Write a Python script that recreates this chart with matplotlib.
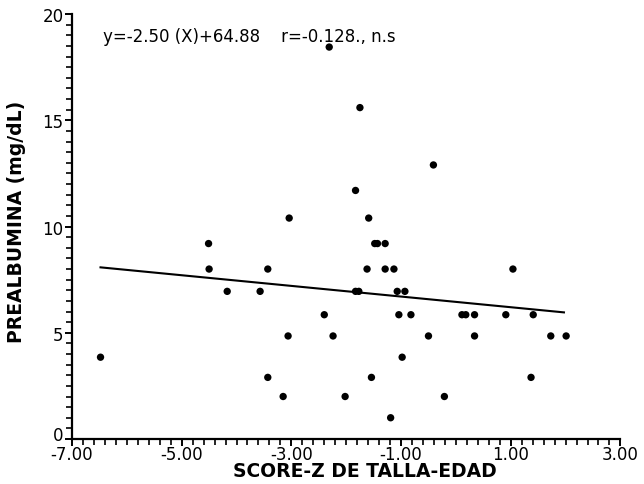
import matplotlib

matplotlib.use("Agg")

import matplotlib.pyplot as plt
from matplotlib.ticker import FixedLocator, MultipleLocator
from matplotlib.transforms import ScaledTranslation

plt.rcParams["axes.unicode_minus"] = False

# Score-Z talla-edad vs prealbumina
score_z = [
    -6.48, -4.51, -4.50, -4.17, -3.57, -3.43, -3.43, -3.15, -3.06, -3.04,
    -1.48, -1.43, -1.29, -1.62, -1.29, -1.13, -1.83, -1.77, -1.07, -0.93,
    -2.40, -1.04, -0.82, 0.11, 0.18, 0.34, -2.24, -0.50, 0.34, -0.98,
    -1.54, -2.02, -0.21, -1.19, -2.31, -1.75, -0.41, -1.83, -1.59, 1.04,
    0.91, 1.41, 1.73, 2.01, 1.37,
]
prealbumina = [
    3.85, 9.2, 8.0, 6.95, 6.95, 8.0, 2.9, 2.0, 4.85, 10.4,
    9.2, 9.2, 9.2, 8.0, 8.0, 8.0, 6.95, 6.95, 6.95, 6.95,
    5.85, 5.85, 5.85, 5.85, 5.85, 5.85, 4.85, 4.85, 4.85, 3.85,
    2.9, 2.0, 2.0, 1.0, 18.45, 15.6, 12.9, 11.7, 10.4, 8.0,
    5.85, 5.85, 4.85, 4.85, 2.9,
]

# regression line end points
fit_x = [-6.48, 1.97]
fit_y = [8.08, 5.96]

x_ticks = [-7.0, -5.0, -3.0, -1.0, 1.0, 3.0]
x_tick_labels = ["-7.00", "-5.00", "-3.00", "-1.00", "1.00", "3.00"]
y_ticks = [0, 5, 10, 15, 20]
y_tick_labels = ["0", "5", "10", "15", "20"]

equation = "y=-2.50 (X)+64.88    r=-0.128., n.s"

fig = plt.figure(figsize=(6.44, 4.85), dpi=100)
ax = fig.add_axes([0.1118, 0.0928, 0.8516, 0.876])

ax.scatter(score_z, prealbumina, s=28, color="black", edgecolors="none", zorder=3)
ax.plot(fit_x, fit_y, color="black", linewidth=1.5, zorder=2)

ax.set_xlim(-7, 3)
ax.set_ylim(0, 20)

ax.spines["top"].set_visible(False)
ax.spines["right"].set_visible(False)
for side in ("left", "bottom"):
    ax.spines[side].set_linewidth(1.6)

ax.xaxis.set_major_locator(FixedLocator(x_ticks))
ax.set_xticklabels(x_tick_labels)
ax.xaxis.set_minor_locator(MultipleLocator(0.2))
ax.yaxis.set_major_locator(FixedLocator(y_ticks))
ax.set_yticklabels(y_tick_labels)
ax.yaxis.set_minor_locator(MultipleLocator(0.5))

ax.tick_params(which="major", direction="out", length=5, width=1.4, labelsize=12)
ax.tick_params(axis="x", which="major", pad=-1)
ax.tick_params(axis="y", which="major", pad=1)
ax.tick_params(which="minor", direction="out", length=4, width=1.2)

# the "0" label sits a bit above the corner, clear of "-7.00"
zero_label = ax.get_yticklabels()[0]
zero_label.set_transform(zero_label.get_transform()
                         + ScaledTranslation(0, 4 / 72, fig.dpi_scale_trans))

ax.text(-6.44, 18.96, equation, fontsize=12, ha="left", va="center")

fig.text(0.026, 0.542, "PREALBUMINA (mg/dL)", rotation=90, fontsize=13.5,
         fontweight="bold", ha="center", va="center")
fig.text(0.567, 0.028, "SCORE-Z DE TALLA-EDAD", fontsize=13.5,
         fontweight="bold", ha="center", va="center")

fig.savefig("out.png", dpi=100)
